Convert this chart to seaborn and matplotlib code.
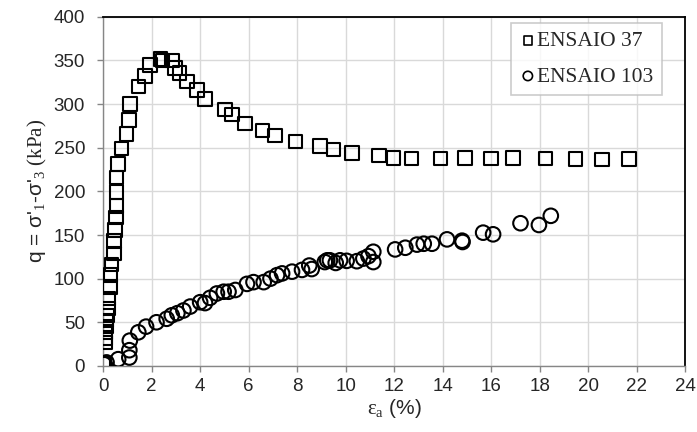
import numpy as np
import pandas as pd
import seaborn as sns
import matplotlib.pyplot as plt

# ENSAIO 37 (squares)
ea_37 = [0.0, 0.07, 0.08, 0.10, 0.12, 0.14, 0.15, 0.21, 0.21, 0.28, 0.30, 0.34,
         0.44, 0.44, 0.48, 0.52, 0.55, 0.55, 0.55, 0.62, 0.76, 0.97, 1.06, 1.10,
         1.45, 1.72, 1.93, 2.37, 2.45, 2.83, 2.97, 3.14, 3.45, 3.86, 4.21, 5.03,
         5.31, 5.86, 6.57, 7.09, 7.93, 8.94, 9.50, 10.26, 11.38, 11.97, 12.72,
         13.92, 14.92, 15.99, 16.90, 18.25, 19.47, 20.58, 21.68]
q_37 = [2, 27, 32, 38.6, 45, 52, 58, 65.7, 77, 90.7, 104, 116,
        129, 143, 156, 170, 183, 199, 216, 231.5, 249, 265.5, 281.7, 300,
        320, 332, 345, 352, 350, 350, 341.5, 335.7, 326, 316, 306, 294,
        288, 278, 270, 264, 257, 252, 248, 244, 241, 238.4, 237.6,
        237.9, 238.3, 237.9, 238.3, 237.9, 237.1, 236.7, 237.1]

# ENSAIO 103 (circles)
ea_103 = [0.03, 0.14, 0.62, 1.08, 1.08, 1.10, 1.45, 1.77, 2.20, 2.62, 2.83, 3.06,
          3.31, 3.59, 4.00, 4.20, 4.41, 4.69, 4.97, 5.17, 5.45, 5.93, 6.20, 6.62,
          6.90, 7.17, 7.38, 7.79, 8.20, 8.50, 8.60, 9.14, 9.24, 9.35, 9.59, 9.77,
          10.04, 10.46, 10.73, 10.94, 11.14, 11.14, 12.04, 12.46, 12.94, 13.22,
          13.56, 14.18, 14.80, 14.82, 15.67, 16.08, 17.21, 17.97, 18.46]
q_103 = [2, 4, 7.7, 9.6, 18, 29, 38.5, 45, 50, 54, 58, 60.4,
         63.5, 68, 73, 72, 78, 83, 85, 85, 87, 94, 96, 96,
         100, 104, 106, 108, 110, 115, 111, 119, 121, 121, 118, 121,
         120.4, 120, 123, 125.8, 130.8, 119, 133.5, 135.4, 139, 140,
         140, 145, 143.5, 142, 152.7, 150.8, 163.5, 161.5, 172]

x_ticks = list(range(0, 25, 2))
y_ticks = list(range(0, 401, 50))

df37 = pd.DataFrame({"ea": ea_37, "q": q_37})
df103 = pd.DataFrame({"ea": ea_103, "q": q_103})

sns.set_style("white")
plt.rcParams["font.family"] = ["Liberation Sans", "DejaVu Sans"]
plt.rcParams["mathtext.fontset"] = "custom"
plt.rcParams["mathtext.rm"] = "Liberation Serif"
plt.rcParams["mathtext.it"] = "Liberation Serif:italic"

fig = plt.figure(figsize=(6.97, 4.32), dpi=100)
ax = fig.add_axes([0.148, 0.153, 0.835, 0.808])

sns.scatterplot(data=df37, x="ea", y="q", marker="s", s=95, facecolor="none",
                edgecolor="black", linewidth=1.5, label="ENSAIO 37", ax=ax, zorder=3)
sns.scatterplot(data=df103, x="ea", y="q", marker="o", s=110, facecolor="none",
                edgecolor="black", linewidth=1.5, label="ENSAIO 103", ax=ax, zorder=3)

ax.set_xlim(0, 24)
ax.set_ylim(0, 400)
ax.set_xticks(x_ticks)
ax.set_yticks(y_ticks)
ax.grid(True, color="#d9d9d9", linewidth=1.0, zorder=0)
ax.set_axisbelow(True)

for side in ["top", "right"]:
    ax.spines[side].set_color("black")
    ax.spines[side].set_linewidth(1.3)
for side in ["left", "bottom"]:
    ax.spines[side].set_color("#868686")
    ax.spines[side].set_linewidth(1.0)

ax.tick_params(axis="both", which="major", labelsize=13.5, length=4, width=1,
               color="#868686", direction="out", left=True, bottom=True)
ax.tick_params(axis="y", pad=9)
ax.tick_params(axis="x", pad=5)

ax.set_xlabel(r"$\mathrm{\epsilon_a}$ (%)", fontsize=15, labelpad=1)
ax.set_ylabel(r"q = σ'$_\mathrm{1}$-σ'$_\mathrm{3}$ $\mathrm{(kPa)}$", fontsize=15, labelpad=3)

leg = ax.legend(loc="upper right", bbox_to_anchor=(0.96, 0.983), borderaxespad=0,
                prop={"family": "Liberation Serif", "size": 15.5},
                frameon=True, fancybox=False, handletextpad=0.05, borderpad=0.4,
                labelspacing=0.7, handlelength=0.75, markerscale=0.64)
leg.get_frame().set_edgecolor("#bfbfbf")
leg.get_frame().set_linewidth(1.2)
for h in leg.legend_handles:
    h.set_linewidth(1.2)

plt.savefig("out.png", dpi=100)
